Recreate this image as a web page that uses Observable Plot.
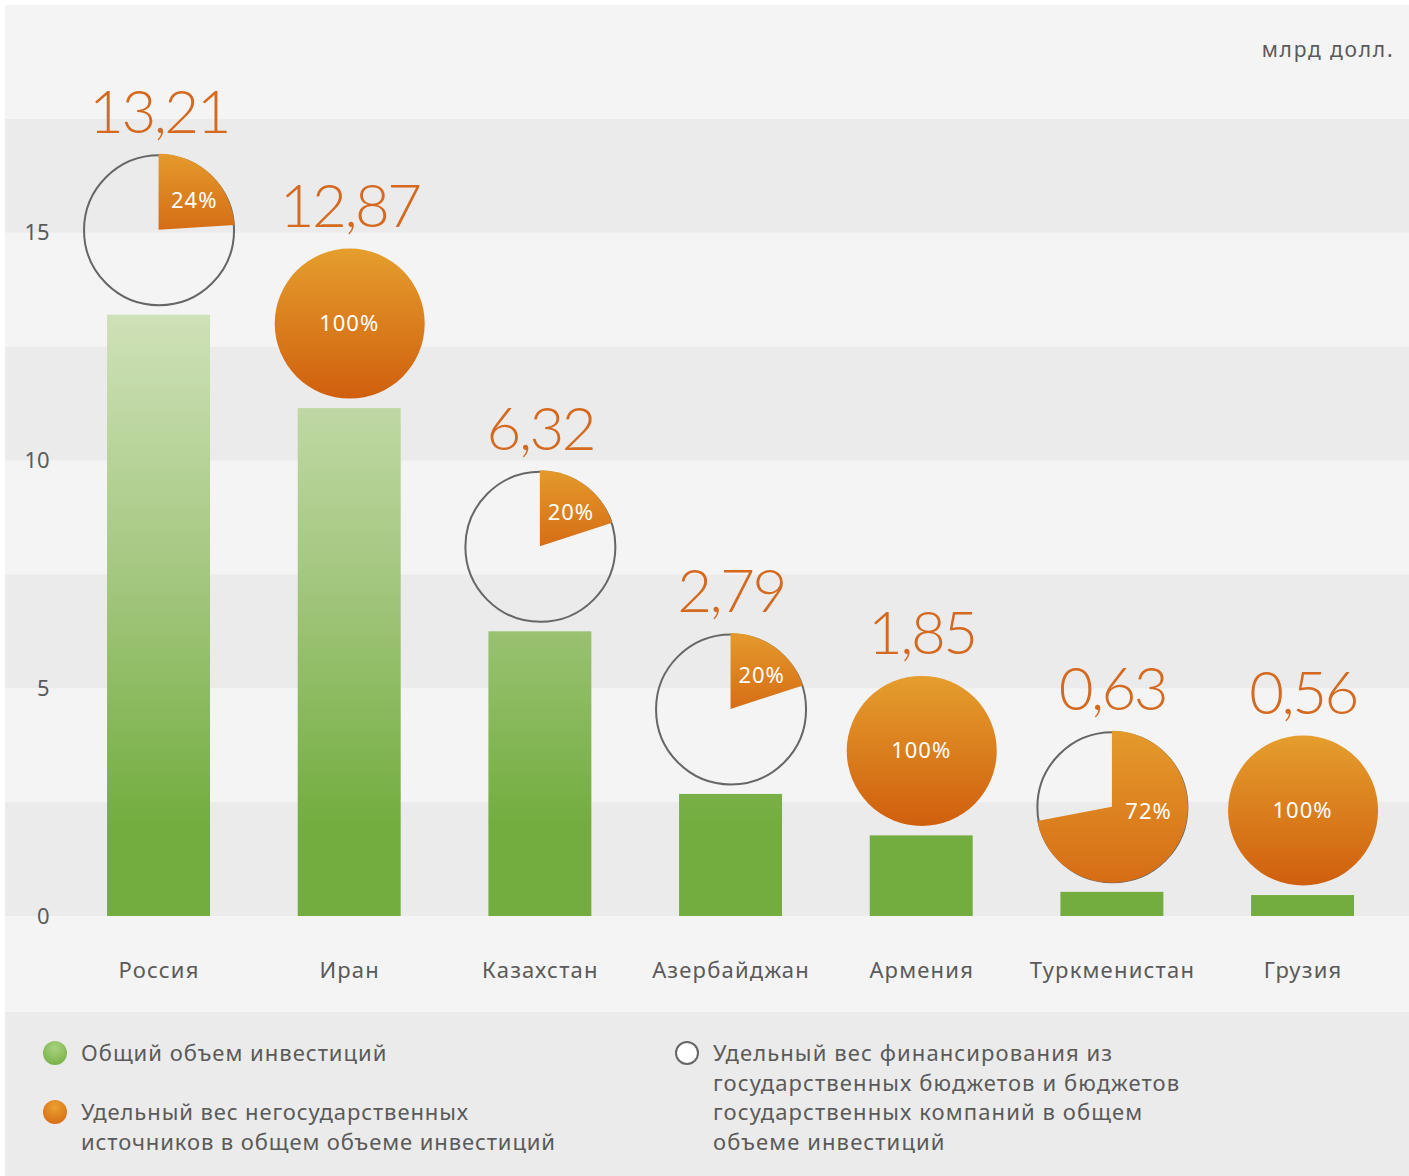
<!DOCTYPE html>
<html><head><meta charset="utf-8">
<script src="https://cdn.jsdelivr.net/npm/d3@7"></script>
<script src="https://cdn.jsdelivr.net/npm/@observablehq/plot@0.6"></script>
<style>
body{margin:0;background:#fff;}
#wrap{position:absolute;left:5px;top:5px;width:1404px;}
#chart svg{display:block}
#legend{position:relative;height:164px;background:#ebebeb;font-family:"Noto Sans",sans-serif;color:#5a5a5a;font-size:22px;letter-spacing:1.1px;}
.item{position:absolute;line-height:29.5px;white-space:nowrap;}
.dot{position:absolute;width:24px;height:24px;border-radius:50%;box-sizing:border-box;}
</style></head><body>
<div id="wrap"><div id="chart"></div><div id="legend"></div></div>
<script>
// ---- data ----
const countries = ["Россия","Иран","Казахстан","Азербайджан","Армения","Туркменистан","Грузия"];
const totals = [13.21, 12.87, 6.32, 2.79, 1.85, 0.63, 0.56];          // value labels
const barHeights = [13.2, 11.15, 6.25, 2.68, 1.77, 0.53, 0.46];       // bar heights as drawn
const nonGovShare = [24, 100, 20, 20, 100, 72, 100];                  // % non-state sources
const yTicks = [0, 5, 10, 15];
const unitLabel = "млрд долл.";
const legendGreen = "Общий объем инвестиций";
const legendOrange = ["Удельный вес негосударственных", "источников в общем объеме инвестиций"];
const legendWhite = ["Удельный вес финансирования из", "государственных бюджетов и бюджетов", "государственных компаний в общем", "объеме инвестиций"];

const data = countries.map((c, i) => ({country: c, total: totals[i], bar: barHeights[i], share: nonGovShare[i]}));
const stripeData = d3.range(8).map(i => ({y1: i * 2.5, y2: (i + 1) * 2.5, dark: i % 2 === 0}));
const fmt = v => v.toFixed(2).replace(".", ",");

const W = 1404, H = 1007, ML = 58.2, MR = 11.1, MB = 96;
const R = 75, LIFT = 85;

function defsMark(index, scales) {
  const defs = d3.create("svg:defs");
  const bg = defs.append("linearGradient").attr("id", "barGrad")
    .attr("gradientUnits", "userSpaceOnUse")
    .attr("x1", 0).attr("x2", 0).attr("y1", scales.y(13.2)).attr("y2", scales.y(2));
  bg.append("stop").attr("offset", 0).attr("stop-color", "#cfe1b8");
  bg.append("stop").attr("offset", 0.5).attr("stop-color", "#a5c881");
  bg.append("stop").attr("offset", 1).attr("stop-color", "#73ad3f");
  const og = defs.append("linearGradient").attr("id", "orangeGrad")
    .attr("x1", 0).attr("x2", 0).attr("y1", 0).attr("y2", 1);
  og.append("stop").attr("offset", 0).attr("stop-color", "#e59e2d");
  og.append("stop").attr("offset", 1).attr("stop-color", "#d05f0e");
  const wg = defs.append("linearGradient").attr("id", "wedgeGrad")
    .attr("x1", 0).attr("x2", 0).attr("y1", 0).attr("y2", 1);
  wg.append("stop").attr("offset", 0).attr("stop-color", "#e49a2b");
  wg.append("stop").attr("offset", 1).attr("stop-color", "#d66d16");
  return defs.node();
}

function wedgeMark(index, scales) {
  const g = d3.create("svg:g");
  const bw = scales.x.bandwidth ? scales.x.bandwidth() : 0;
  const arc = d3.arc().innerRadius(0).outerRadius(R + 1);
  for (const d of data) {
    const cx = scales.x(d.country) + bw / 2, cy = scales.y(d.bar) - LIFT;
    let lx = cx, ly = cy;
    if (d.share < 100) {
      const a = d.share / 100 * 2 * Math.PI;
      g.append("path").attr("d", arc({startAngle: 0, endAngle: a}))
        .attr("transform", `translate(${cx},${cy})`).attr("fill", "url(#wedgeGrad)");
      const t = Math.min(a / 2 * 1.18, 0.54 * Math.PI);
      const rr = d.share < 50 ? 46 : 37;
      lx = cx + rr * Math.sin(t); ly = cy - rr * Math.cos(t);
    }
    g.append("text").attr("x", lx).attr("y", ly).attr("dy", "0.35em")
      .attr("text-anchor", "middle").attr("fill", "#fff")
      .attr("font-family", "Noto Sans").attr("font-size", 22).attr("letter-spacing", 1)
      .text(d.share + "%");
  }
  return g.node();
}

const chart = Plot.plot({
  width: W, height: H, marginLeft: ML, marginRight: MR, marginTop: 0, marginBottom: MB,
  style: {background: "#f4f4f4", fontFamily: "Noto Sans", color: "#5a5a5a", overflow: "visible"},
  x: {domain: countries, paddingInner: 0.46, paddingOuter: 0.23, round: false, axis: null},
  y: {domain: [0, 20], axis: null},
  marks: [
    defsMark,
    Plot.rectY(stripeData, {y1: "y1", y2: "y2", fill: d => d.dark ? "#ebebeb" : "#f4f4f4", insetLeft: -ML, insetRight: -MR}),
    Plot.axisY({ticks: yTicks, tickSize: 0, tickPadding: 14, fontSize: 22, fill: "#5a5a5a", label: null}),
    Plot.axisX({tickSize: 0, tickPadding: 46, fontSize: 22, fill: "#5a5a5a", label: null}),
    Plot.barY(data, {x: "country", y: "bar", fill: "url(#barGrad)"}),
    Plot.dot(data.filter(d => d.share === 100), {x: "country", y: "bar", r: R, dy: -LIFT, fill: "url(#orangeGrad)"}),
    Plot.dot(data.filter(d => d.share < 100), {x: "country", y: "bar", r: R, dy: -LIFT, fill: "none", stroke: "#666", strokeWidth: 2}),
    wedgeMark,
    Plot.text(data, {x: "country", y: "bar", dy: -LIFT - 97, text: d => fmt(d.total), fontSize: 60, fontWeight: 300,
      fill: "#d4691f", lineAnchor: "bottom", fontFamily: "Lato"}),
    Plot.text([unitLabel], {frameAnchor: "top-right", text: d => d, dx: -4, dy: 45, fontSize: 21, fill: "#5a5a5a",
      textAnchor: "end", lineAnchor: "middle"})
  ]
});
// letter-spacing styling (Plot text has no letterSpacing option)
const valueSet = new Set(totals.map(fmt));
const countrySet = new Set(countries);
d3.select(chart).selectAll("text").each(function () {
  const t = this.textContent;
  if (valueSet.has(t)) this.setAttribute("letter-spacing", "-2.5");
  else if (countrySet.has(t)) this.setAttribute("letter-spacing", "1.2");
  else if (t === unitLabel) this.setAttribute("letter-spacing", "1.8");
});
document.getElementById("chart").append(chart);

// ---- legend ----
const leg = d3.select("#legend");
leg.append("div").attr("class", "dot").style("left", "38px").style("top", "29px")
  .style("background", "radial-gradient(circle at 50% 30%, #a9d27f, #6eab3b)");
leg.append("div").attr("class", "item").style("left", "76px").style("top", "26px").style("letter-spacing", "1px").text(legendGreen);
leg.append("div").attr("class", "dot").style("left", "38px").style("top", "88px")
  .style("background", "radial-gradient(circle at 50% 30%, #eba132, #d2630f)");
leg.append("div").attr("class", "item").style("left", "76px").style("top", "85px").style("letter-spacing", "0.9px").html(legendOrange.join("<br>"));
leg.append("div").attr("class", "dot").style("left", "670px").style("top", "29px")
  .style("background", "#fff").style("border", "2px solid #666");
leg.append("div").attr("class", "item").style("left", "708px").style("top", "26px").html(legendWhite.join("<br>"));
</script>
</body></html>
